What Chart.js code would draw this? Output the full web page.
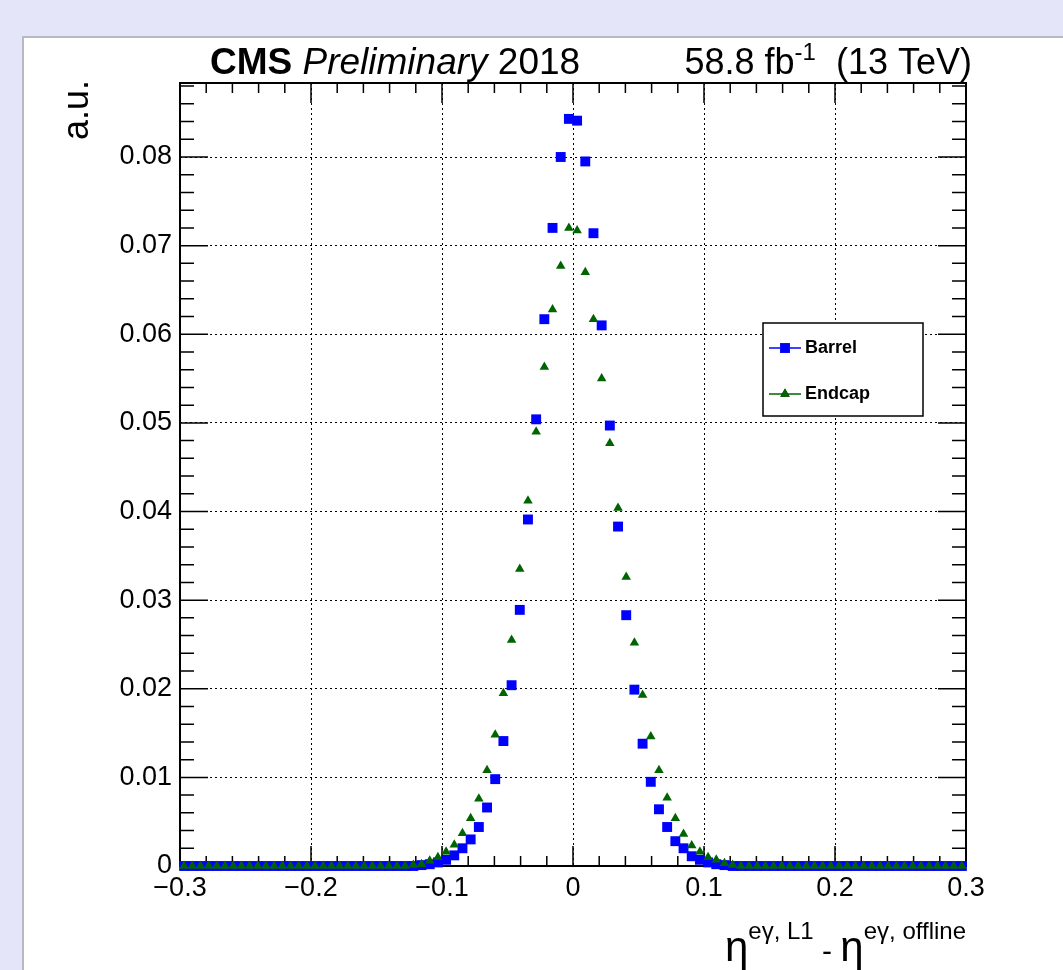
<!DOCTYPE html>
<html lang="en">
<head>
<meta charset="UTF-8">
<title>L1 eta resolution</title>
<script src="https://cdn.jsdelivr.net/npm/chart.js"></script>
<style>
    body { margin: 0; width: 1063px; height: 970px; background: #e5e5f9; overflow: hidden; position: relative; }
    .panel { position: absolute; left: 22px; top: 36px; right: 0; bottom: 0; background: #fff; border-left: 2px solid #b9b9c6; border-top: 2px solid #b9b9c6; }
    #myChart { position: absolute; left: 0; top: 0; }
</style>
</head>
<body>
<div class="panel"></div>
<canvas id="myChart" width="1063" height="970"></canvas>
<script>
// binning of the histograms: 96 bins from -0.3 to 0.3
const binLow = -0.3;
const binWidth = 0.00625;
const xTicks = [-0.3, -0.2, -0.1, 0, 0.1, 0.2, 0.3];
const yTicks = [0, 0.01, 0.02, 0.03, 0.04, 0.05, 0.06, 0.07, 0.08];

const barrel = [
    0, 0, 0, 0, 0, 0, 0, 0, 0, 0, 0, 0, 0, 0, 0, 0,
    0, 0, 0, 0, 0, 0, 0, 0, 0, 0, 0, 0, 0, 0.0001, 0.0002, 0.0004,
    0.0007, 0.0012, 0.0020, 0.0030, 0.0044, 0.0066, 0.0098, 0.0141, 0.0204, 0.0289, 0.0391, 0.0504, 0.0617, 0.0720, 0.0800, 0.0843,
    0.0841, 0.0795, 0.0714, 0.0610, 0.0497, 0.0383, 0.0283, 0.0199, 0.0138, 0.0095, 0.0064, 0.0044, 0.0028, 0.0020, 0.0011, 0.0007,
    0.0004, 0.0002, 0.0001, 0, 0, 0, 0, 0, 0, 0, 0, 0, 0, 0, 0, 0,
    0, 0, 0, 0, 0, 0, 0, 0, 0, 0, 0, 0, 0, 0, 0, 0
];
const endcap = [
    0, 0, 0, 0, 0, 0, 0, 0, 0, 0, 0, 0, 0, 0, 0, 0,
    0, 0, 0, 0, 0, 0, 0, 0, 0, 0, 0, 0, 0.0001, 0.0002, 0.0006, 0.0010,
    0.0016, 0.0024, 0.0037, 0.0054, 0.0076, 0.0108, 0.0148, 0.0195, 0.0255, 0.0335, 0.0412, 0.0490, 0.0563, 0.0628, 0.0677, 0.0720,
    0.0717, 0.0670, 0.0617, 0.0550, 0.0477, 0.0404, 0.0326, 0.0252, 0.0193, 0.0146, 0.0108, 0.0077, 0.0054, 0.0036, 0.0023, 0.0016,
    0.0010, 0.0007, 0.0003, 0.0001, 0, 0, 0, 0, 0, 0, 0, 0, 0, 0, 0, 0,
    0, 0, 0, 0, 0, 0, 0, 0, 0, 0, 0, 0, 0, 0, 0, 0
];

const FONT = "'Liberation Sans', Arial, Helvetica, sans-serif";

function toPoints(values) {
    return values.map((v, i) => ({ x: binLow + (i + 0.5) * binWidth, y: v }));
}

function fmt(v) {
    const r = Math.round(v * 1000) / 1000;
    return (r < 0 ? '\u2212' : '') + Math.abs(r);
}

// frame + ROOT style inner ticks on all four sides
const framePlugin = {
    id: 'frame',
    beforeDatasetsDraw(chart) {
        const ctx = chart.ctx;
        const a = chart.chartArea;
        const xs = chart.scales.x, ys = chart.scales.y;
        ctx.save();
        ctx.strokeStyle = '#000';
        ctx.lineWidth = 1.5;
        ctx.beginPath();
        for (let k = 0; k <= 30; k++) {
            const px = xs.getPixelForValue(xs.min + k * 0.02);
            const len = k % 5 === 0 ? 20 : 10;
            ctx.moveTo(px, a.bottom); ctx.lineTo(px, a.bottom - len);
            ctx.moveTo(px, a.top); ctx.lineTo(px, a.top + len);
        }
        for (let k = 0; k * 0.002 <= ys.max + 1e-9; k++) {
            const py = ys.getPixelForValue(k * 0.002);
            const len = k % 5 === 0 ? 28 : 14;
            ctx.moveTo(a.left, py); ctx.lineTo(a.left + len, py);
            ctx.moveTo(a.right, py); ctx.lineTo(a.right - len, py);
        }
        ctx.stroke();
        ctx.lineWidth = 2;
        ctx.strokeRect(a.left, a.top, a.right - a.left, a.bottom - a.top);
        ctx.restore();
    }
};

function drawPieces(ctx, pieces, xRight, y) {
    let total = 0;
    pieces.forEach(p => { ctx.font = p.font; total += ctx.measureText(p.t).width; });
    let x = xRight - total;
    pieces.forEach(p => {
        ctx.font = p.font;
        ctx.fillText(p.t, x, y + (p.dy || 0));
        x += ctx.measureText(p.t).width;
    });
}

const textPlugin = {
    id: 'texts',
    afterDraw(chart) {
        const ctx = chart.ctx;
        const a = chart.chartArea;
        ctx.save();
        ctx.fillStyle = '#000';
        ctx.textBaseline = 'alphabetic';
        ctx.textAlign = 'left';

        // header left
        let x = 210;
        const hy = 74;
        [['bold 37px ' + FONT, 'CMS '], ['italic 37px ' + FONT, 'Preliminary '], ['37px ' + FONT, '2018']].forEach(p => {
            ctx.font = p[0];
            ctx.fillText(p[1], x, hy);
            x += ctx.measureText(p[1]).width;
        });

        // header right
        drawPieces(ctx, [
            { t: '58.8 fb', font: '36px ' + FONT },
            { t: '-1', font: '24px ' + FONT, dy: -14 },
            { t: '  (13 TeV)', font: '36px ' + FONT }
        ], 972, hy);

        // x axis title
        drawPieces(ctx, [
            { t: '\u03b7', font: '42px ' + FONT },
            { t: 'e\u03b3, L1', font: '24px ' + FONT, dy: -22 },
            { t: ' - ', font: '30px ' + FONT },
            { t: '\u03b7', font: '42px ' + FONT },
            { t: 'e\u03b3, offline', font: '24px ' + FONT, dy: -22 }
        ], a.right, 961);

        // y axis title
        ctx.save();
        ctx.translate(88, 80);
        ctx.rotate(-Math.PI / 2);
        ctx.textAlign = 'right';
        ctx.font = '36px ' + FONT;
        ctx.fillText('a.u.', 0, 0);
        ctx.restore();

        // legend
        const lx = 763, ly = 323, lw = 160, lh = 93;
        ctx.fillStyle = '#fff';
        ctx.fillRect(lx, ly, lw, lh);
        ctx.strokeStyle = '#000';
        ctx.lineWidth = 1.5;
        ctx.strokeRect(lx, ly, lw, lh);
        chart.data.datasets.forEach((ds, i) => {
            const ey = ly + 25 + i * 46;
            ctx.strokeStyle = ds.borderColor;
            ctx.lineWidth = 1.5;
            ctx.beginPath();
            ctx.moveTo(lx + 6, ey); ctx.lineTo(lx + 38, ey);
            ctx.stroke();
            Chart.helpers.drawPoint(ctx, {
                pointStyle: ds.pointStyle, radius: ds.pointRadius, borderWidth: 0, rotation: 0
            }, lx + 22, ey);
            ctx.fillStyle = ds.backgroundColor;
            ctx.fill();
            ctx.fillStyle = '#000';
            ctx.font = 'bold 18px ' + FONT;
            ctx.textBaseline = 'middle';
            ctx.fillText(ds.label, lx + 42, ey);
            ctx.textBaseline = 'alphabetic';
        });
        ctx.restore();
    }
};

const ctx = document.getElementById('myChart').getContext('2d');
new Chart(ctx, {
    type: 'scatter',
    data: {
        datasets: [{
            label: 'Barrel',
            data: toPoints(barrel),
            pointStyle: 'rect',
            pointRadius: 7,
            backgroundColor: '#0000ff',
            borderColor: '#0000ff',
            borderWidth: 0,
            order: 1,
            clip: false
        }, {
            label: 'Endcap',
            data: toPoints(endcap),
            pointStyle: 'triangle',
            pointRadius: 5.5,
            backgroundColor: '#006400',
            borderColor: '#006400',
            borderWidth: 0,
            order: 0,
            clip: false
        }]
    },
    options: {
        responsive: false,
        animation: false,
        events: [],
        layout: { padding: { left: 0, top: 83, right: 97, bottom: 0 } },
        plugins: {
            legend: { display: false },
            tooltip: { enabled: false }
        },
        scales: {
            x: {
                type: 'linear',
                min: -0.3,
                max: 0.3,
                afterFit: s => { s.height = 104; },
                afterBuildTicks: s => { s.ticks = xTicks.map(v => ({ value: v })); },
                ticks: {
                    padding: 6,
                    color: '#000',
                    font: { family: FONT, size: 27 },
                    callback: v => fmt(v),
                    maxRotation: 0
                },
                grid: { color: '#000', lineWidth: 1, drawTicks: false },
                border: { display: false, dash: [2, 3] }
            },
            y: {
                type: 'linear',
                min: 0,
                max: 0.08835,
                afterFit: s => { s.width = 180; },
                afterBuildTicks: s => { s.ticks = yTicks.map(v => ({ value: v })); },
                ticks: {
                    padding: 8,
                    color: '#000',
                    font: { family: FONT, size: 27 },
                    callback: v => fmt(v)
                },
                grid: { color: '#000', lineWidth: 1, drawTicks: false },
                border: { display: false, dash: [2, 3] }
            }
        }
    },
    plugins: [framePlugin, textPlugin]
});
</script>
</body>
</html>
